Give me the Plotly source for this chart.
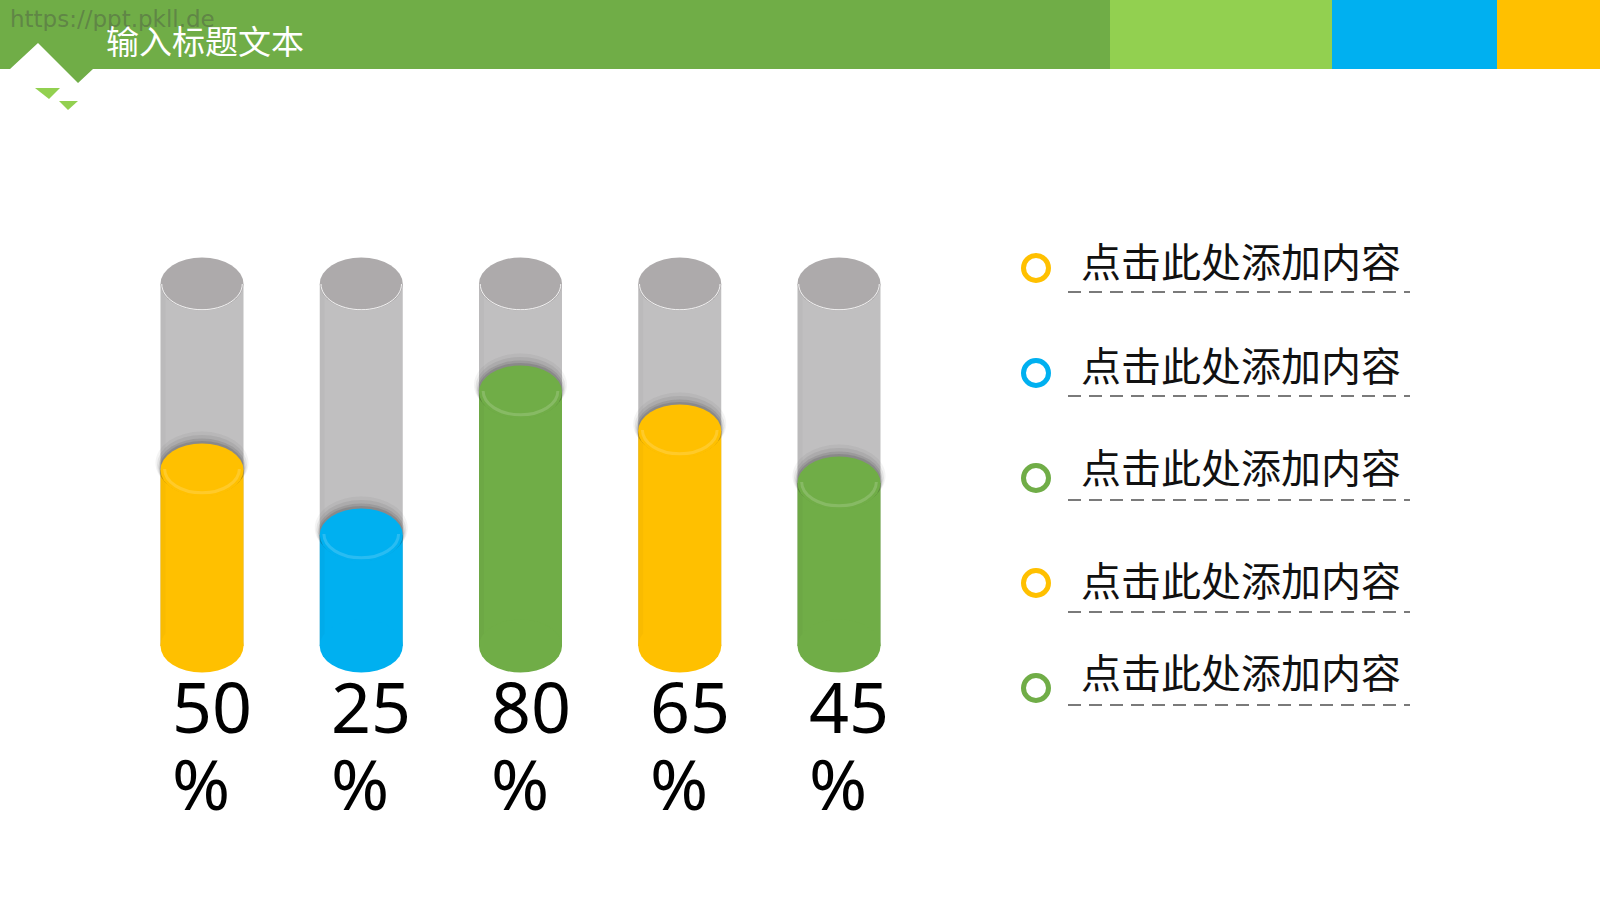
import plotly.graph_objects as go

# ---------------- data ----------------
values = [50, 25, 80, 65, 45]
value_labels = ["50", "25", "80", "65", "45"]
percent_sign = "%"
fill_colors = ["#FFC000", "#00B0F0", "#70AD47", "#FFC000", "#70AD47"]
legend_labels = ["点击此处添加内容", "点击此处添加内容", "点击此处添加内容",
                 "点击此处添加内容", "点击此处添加内容"]
legend_colors = ["#FFC000", "#00B0F0", "#70AD47", "#FFC000", "#70AD47"]
title_text = "输入标题文本"
watermark_text = "https://ppt.pkll.de"

# ---------------- layout constants ----------------
W, H = 1600, 900
X0_PX, X_STEP = 202.0, 159.25        # pixel centre of first tube, spacing
ZERO_PY, Y_SCALE = 600.0, 2.6         # pixel row of value 0, px per unit
TUBE_BOTTOM = (ZERO_PY - 646) / Y_SCALE
TUBE_TOP = (ZERO_PY - 284) / Y_SCALE
EW = 41.5 / X_STEP                    # half width in x units
EH = 26.5 / Y_SCALE                   # ellipse half height in y units
GRAY_BODY = "#C0BFC0"
GRAY_TOP = "#ADAAAB"

idx = list(range(len(values)))


def px(x):
    return x / W


def py(y):
    return 1 - y / H


fig = go.Figure()

fig.add_trace(go.Bar(
    x=idx, y=[TUBE_TOP - TUBE_BOTTOM] * len(values), base=[TUBE_BOTTOM] * len(values),
    width=2 * EW, marker=dict(color=GRAY_BODY, line=dict(width=0)), hoverinfo="skip"))
fig.add_trace(go.Bar(
    x=idx, y=[v - TUBE_BOTTOM for v in values], base=[TUBE_BOTTOM] * len(values),
    width=2 * EW, marker=dict(color=fill_colors, line=dict(width=0)), hoverinfo="skip"))

shapes = []


def ellipse(cx, cy, a, b, color, line=None):
    d = dict(type="circle", xref="x", yref="y", x0=cx - a, x1=cx + a, y0=cy - b, y1=cy + b,
             fillcolor=color, line=dict(width=0))
    if line:
        d["line"] = line
    return d


def lower_arc(cx, cy, a, b, color, width, t0=-1.0, t1=1.0):
    k = 0.5523
    path = (f"M{cx - a},{cy} C{cx - a},{cy - k * b} {cx - k * a},{cy - b} {cx},{cy - b} "
            f"C{cx + k * a},{cy - b} {cx + a},{cy - k * b} {cx + a},{cy}")
    return dict(type="path", xref="x", yref="y", path=path, line=dict(color=color, width=width))


for i, v in enumerate(values):
    c = fill_colors[i]
    # subtle side shading of the glass tube
    shapes.append(dict(type="rect", xref="x", yref="y", x0=i - EW, x1=i - EW + 5 / X_STEP,
                       y0=TUBE_BOTTOM, y1=TUBE_TOP, fillcolor="rgba(0,0,0,0.025)", line=dict(width=0)))
    # top ellipse of tube
    shapes.append(ellipse(i, TUBE_TOP, EW, EH, GRAY_TOP))
    shapes.append(lower_arc(i, TUBE_TOP, EW * 0.97, EH * 0.97, "rgba(255,255,255,0.85)", 1))
    # bottom of fill
    shapes.append(ellipse(i, TUBE_BOTTOM, EW, EH, c))
    # shadow above the liquid surface
    for shift, grow, alpha in [(7, 5, 0.05), (5, 3.5, 0.08), (3, 2, 0.12), (1.5, 1, 0.15)]:
        shapes.append(ellipse(i, v + shift / Y_SCALE, EW + grow / X_STEP, EH + grow / Y_SCALE,
                              f"rgba(40,40,40,{alpha})"))
    # liquid surface
    shapes.append(ellipse(i, v, EW, EH, c))
    shapes.append(lower_arc(i, v + 1 / Y_SCALE, EW * 0.9, EH * 0.9, "rgba(255,255,255,0.16)", 3))

# header bar with notch
hdr = [(0, 0), (1110, 0), (1110, 69), (93, 69), (78, 83), (38, 43), (10, 69), (0, 69)]
path = "M" + " L".join(f"{px(x)},{py(y)}" for x, y in hdr) + " Z"
shapes.append(dict(type="path", xref="paper", yref="paper", path=path,
                   fillcolor="#70AD47", line=dict(width=0)))
for x0, x1, col in [(1110, 1332, "#92D050"), (1332, 1497, "#00B0F0"), (1497, 1600, "#FFC000")]:
    shapes.append(dict(type="rect", xref="paper", yref="paper", x0=px(x0), x1=px(x1),
                       y0=py(69), y1=py(0), fillcolor=col, line=dict(width=0)))
for tri in [[(35, 88), (60, 88), (49, 99)], [(59, 101), (78, 101), (68, 110)]]:
    p = "M" + " L".join(f"{px(x)},{py(y)}" for x, y in tri) + " Z"
    shapes.append(dict(type="path", xref="paper", yref="paper", path=p,
                       fillcolor="#92D050", line=dict(width=0)))

# legend list
circle_y = [268, 373, 478, 583, 688]
text_y = [260, 364, 466, 579, 671]
dash_y = [292, 396, 500, 612, 705]
annotations = []
r = 12.5
for k, lab in enumerate(legend_labels):
    shapes.append(dict(type="circle", xref="paper", yref="paper",
                       x0=px(1036 - r), x1=px(1036 + r), y0=py(circle_y[k] + r), y1=py(circle_y[k] - r),
                       line=dict(color=legend_colors[k], width=5), fillcolor="rgba(0,0,0,0)"))
    shapes.append(dict(type="line", xref="paper", yref="paper", x0=px(1068), x1=px(1410),
                       y0=py(dash_y[k]), y1=py(dash_y[k]),
                       line=dict(color="#7A7A7A", width=2, dash="13px,8px")))
    annotations.append(dict(xref="paper", yref="paper", x=px(1079), y=py(text_y[k]),
                            xanchor="left", yanchor="middle", showarrow=False, text=lab,
                            font=dict(family="Noto Sans CJK SC", size=40, color="#111111")))

# value labels
for i, lab in enumerate(value_labels):
    annotations.append(dict(xref="x", yref="paper", x=i - 32 / X_STEP, y=py(706),
                            xanchor="left", yanchor="middle", showarrow=False, text=lab, height=74,
                            font=dict(family="Noto Sans", size=70, color="#000000")))
    annotations.append(dict(xref="x", yref="paper", x=i - 32 / X_STEP, y=py(783),
                            xanchor="left", yanchor="middle", showarrow=False, text=percent_sign,
                            height=74, font=dict(family="Noto Sans", size=70, color="#000000")))

annotations.append(dict(xref="paper", yref="paper", x=px(104), y=py(40), xanchor="left",
                        yanchor="middle", showarrow=False, text=title_text, height=34,
                        font=dict(family="Noto Sans CJK SC", size=33, color="#FFFFFF")))
annotations.append(dict(xref="paper", yref="paper", x=px(8), y=py(19), xanchor="left",
                        yanchor="middle", showarrow=False, text=watermark_text, height=24,
                        font=dict(family="DejaVu Sans", size=23, color="rgba(70,70,70,0.4)")))

fig.update_layout(
    width=W, height=H, margin=dict(l=0, r=0, t=0, b=0),
    paper_bgcolor="#FFFFFF", plot_bgcolor="#FFFFFF",
    barmode="overlay", showlegend=False, hovermode=False,
    xaxis=dict(range=[-X0_PX / X_STEP, (W - X0_PX) / X_STEP], visible=False, fixedrange=True),
    yaxis=dict(range=[(ZERO_PY - H) / Y_SCALE, ZERO_PY / Y_SCALE], visible=False, fixedrange=True),
    shapes=shapes, annotations=annotations,
)

fig.write_html("out.html", config={"displayModeBar": False})
